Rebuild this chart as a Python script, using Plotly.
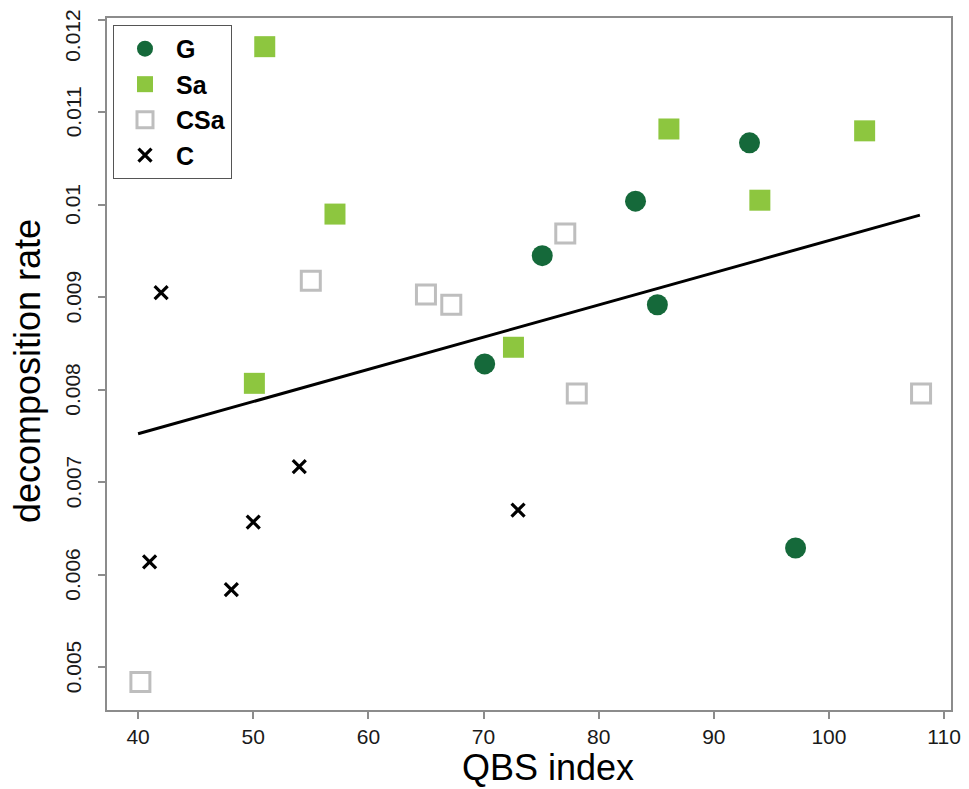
import plotly.graph_objects as go

# ---- data ----
g_x = [70.1, 75.1, 83.2, 85.1, 93.1, 97.1]
g_y = [0.00828, 0.00945, 0.01004, 0.00892, 0.01067, 0.00629]

sa_x = [50.1, 51.0, 57.1, 72.6, 86.1, 94.0, 103.1]
sa_y = [0.00807, 0.01171, 0.00990, 0.00846, 0.01082, 0.01005, 0.01080]

csa_x = [40.2, 55.0, 65.0, 67.2, 77.1, 78.1, 108.0]
csa_y = [0.00484, 0.00918, 0.00903, 0.00892, 0.00969, 0.00796, 0.00796]

c_x = [41.0, 42.0, 48.1, 50.0, 54.0, 73.0]
c_y = [0.00614, 0.00905, 0.00584, 0.00657, 0.00717, 0.00670]

fit_x = [40.0, 107.9]
fit_y = [0.007525, 0.009889]

x_ticks = [40, 50, 60, 70, 80, 90, 100, 110]
y_ticks = [0.005, 0.006, 0.007, 0.008, 0.009, 0.010, 0.011, 0.012]
y_tick_text = ["0.005", "0.006", "0.007", "0.008", "0.009", "0.01", "0.011", "0.012"]

G_COL = "#15693A"
SA_COL = "#8DC63F"
CSA_COL = "#BEBEBE"
FONT = "Liberation Sans, Arial, sans-serif"
TICK_FONT = dict(family=FONT, size=21, color="#1A1A1A")

fig = go.Figure()
fig.add_trace(go.Scatter(x=fit_x, y=fit_y, mode="lines", line=dict(color="black", width=3),
                         showlegend=False, hoverinfo="skip"))
fig.add_trace(go.Scatter(x=g_x, y=g_y, mode="markers", name="<b>G</b>", legendgroup="g",
                         marker=dict(symbol="circle", size=21, color=G_COL, line=dict(width=0))))
fig.add_trace(go.Scatter(x=sa_x, y=sa_y, mode="markers", name="<b>Sa</b>", legendgroup="sa",
                         marker=dict(symbol="square", size=21, color=SA_COL, line=dict(width=0))))
fig.add_trace(go.Scatter(x=csa_x, y=csa_y, mode="markers", name="<b>CSa</b>", legendgroup="csa",
                         marker=dict(symbol="square-open", size=19, color=CSA_COL,
                                     line=dict(width=3, color=CSA_COL))))
fig.add_trace(go.Scatter(x=c_x, y=c_y, mode="markers", name="<b>C</b>", legendgroup="c",
                         marker=dict(symbol="x-thin", size=13, color="black",
                                     line=dict(width=3.2, color="black"))))

axis_common = dict(showgrid=False, zeroline=False, showline=True, mirror=True,
                   linecolor="#8C8C8C", linewidth=1.5, ticks="outside", ticklen=7,
                   tickcolor="#8C8C8C", tickwidth=1.5)

fig.update_xaxes(range=[37.3, 110.6], tickvals=x_ticks, ticklabelstandoff=0,
                 tickfont=TICK_FONT, **axis_common)
fig.update_yaxes(range=[0.004538, 0.01202], tickvals=y_ticks, showticklabels=False,
                 **axis_common)

# y tick labels (rotated, as in the reference); the top one is nudged down to stay on the page
for v, t in zip(y_ticks, y_tick_text):
    fig.add_annotation(text=t, x=0, xref="paper", y=v, yref="y",
                       xanchor="center", yanchor="middle", xshift=-34,
                       yshift=(-16 if t == y_tick_text[-1] else 0),
                       textangle=-90, showarrow=False, font=TICK_FONT)

fig.add_annotation(text="QBS index", xref="paper", yref="paper", x=0.522, y=-0.0836,
                   xanchor="center", yanchor="middle", showarrow=False,
                   font=dict(family=FONT, size=36, color="black"))
fig.add_annotation(text="decomposition rate", xref="paper", yref="paper", x=-0.0934, y=0.49,
                   xanchor="center", yanchor="middle", textangle=-90, showarrow=False,
                   font=dict(family=FONT, size=36, color="black"))

fig.update_layout(
    width=961, height=781,
    margin=dict(l=99, r=16, t=8, b=79),
    paper_bgcolor="white", plot_bgcolor="white",
    legend=dict(x=0.0071, y=0.99, xanchor="left", yanchor="top",
                bordercolor="#555555", borderwidth=1, bgcolor="white",
                font=dict(family=FONT, size=25, color="black"),
                traceorder="grouped", tracegroupgap=0, itemwidth=52),
)

fig.write_html("out.html")
